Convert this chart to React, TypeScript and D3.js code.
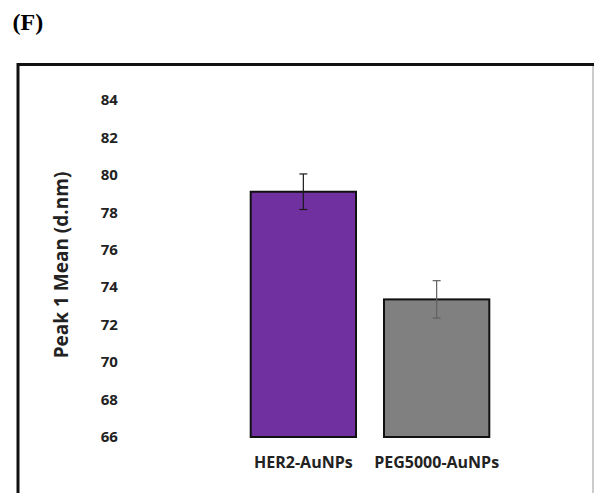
import React from "react";
import * as d3 from "d3";

const categories = ["HER2-AuNPs", "PEG5000-AuNPs"];
const means = [79.1, 73.35];
const errors = [0.95, 1.0];
const barColors = ["#7030A0", "#808080"];
const errColors = ["#1a1a1a", "#606060"];
const yTicks = [66, 68, 70, 72, 74, 76, 78, 80, 82, 84];
const yLabel = "Peak 1 Mean (d.nm)";
const panelLabel = "(F)";

const W = 594;
const H = 493;
const FONT = "'Open Sans', 'DejaVu Sans', sans-serif";

export default function App() {
  const y = d3.scaleLinear().domain([66, 84]).range([437, 100]);
  const x = d3
    .scaleBand<string>()
    .domain(categories)
    .range([222.7, 517.3])
    .paddingInner(0.21)
    .paddingOuter(0.21);
  const bw = x.bandwidth();

  return (
    <svg
      width={W}
      height={H}
      style={{ position: "absolute", left: 0, top: 0, background: "#fff" }}
    >
      <rect x={0} y={0} width={W} height={H} fill="#fff" />
      <text
        x={12.5}
        y={30}
        fontFamily="'Liberation Serif', 'Times New Roman', serif"
        fontWeight="bold"
        fontSize={24}
        fill="#000"
      >
        {panelLabel}
      </text>
      {/* frame */}
      <line x1={18} y1={64.5} x2={W} y2={64.5} stroke="#111" strokeWidth={3} />
      <line x1={18} y1={63} x2={18} y2={H} stroke="#111" strokeWidth={3} />
      <line x1={593} y1={66} x2={593} y2={H} stroke="#bbb" strokeWidth={1.5} />

      {/* y tick labels */}
      {yTicks.map((t) => (
        <text
          key={t}
          x={117.8}
          y={y(t)}
          dy="0.35em"
          textAnchor="end"
          fontFamily={FONT}
          fontWeight={700}
          fontSize={15}
          fill="#222"
        >
          {t}
        </text>
      ))}

      {/* y axis title */}
      <text
        transform={`translate(68,${265}) rotate(-90)`}
        textAnchor="middle"
        fontFamily={FONT}
        fontWeight={700}
        fontSize={19}
        fill="#222"
      >
        {yLabel}
      </text>

      {/* bars */}
      {categories.map((c, i) => {
        const x0 = x(c)!;
        const cx = x0 + bw / 2;
        return (
          <g key={c}>
            <rect
              x={x0}
              y={y(means[i])}
              width={bw}
              height={y(66) - y(means[i])}
              fill={barColors[i]}
              stroke="#111"
              strokeWidth={2}
            />
            <line
              x1={cx}
              x2={cx}
              y1={y(means[i] + errors[i])}
              y2={y(means[i] - errors[i])}
              stroke={errColors[i]}
              strokeWidth={1.2}
            />
            <line
              x1={cx - 4}
              x2={cx + 4}
              y1={y(means[i] + errors[i])}
              y2={y(means[i] + errors[i])}
              stroke={errColors[i]}
              strokeWidth={1.2}
            />
            <line
              x1={cx - 4}
              x2={cx + 4}
              y1={y(means[i] - errors[i])}
              y2={y(means[i] - errors[i])}
              stroke={errColors[i]}
              strokeWidth={1.2}
            />
            <text
              x={cx}
              y={467.5}
              textAnchor="middle"
              fontFamily={FONT}
              fontWeight={700}
              fontSize={16}
              fill="#222"
            >
              {c}
            </text>
          </g>
        );
      })}
    </svg>
  );
}
